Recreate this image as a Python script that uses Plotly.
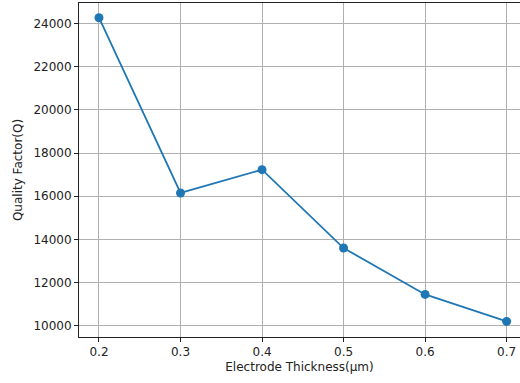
import plotly.graph_objects as go

thickness = [0.2, 0.3, 0.4, 0.5, 0.6, 0.7]
quality = [24270, 16150, 17230, 13600, 11450, 10200]
x_ticks = [0.2, 0.3, 0.4, 0.5, 0.6, 0.7]
x_tick_labels = ["0.2", "0.3", "0.4", "0.5", "0.6", "0.7"]
y_ticks = [10000, 12000, 14000, 16000, 18000, 20000, 22000, 24000]
y_tick_labels = ["10000", "12000", "14000", "16000", "18000", "20000", "22000", "24000"]

fig = go.Figure()
fig.add_trace(go.Scatter(
    x=thickness, y=quality, mode="lines+markers",
    line=dict(color="#1f77b4", width=1.8),
    marker=dict(color="#1f77b4", size=9),
    showlegend=False,
))

axis_common = dict(
    showgrid=True, gridcolor="#b0b0b0", gridwidth=0.8,
    showline=True, linecolor="#222222", linewidth=1,
    ticks="outside", ticklen=4, tickcolor="#222222", tickwidth=1,
    zeroline=False, automargin=False,
    tickfont=dict(family="DejaVu Sans", size=12, color="#222222"),
)

fig.update_layout(
    width=520, height=383,
    margin=dict(l=79, r=0, t=3, b=46),
    paper_bgcolor="white", plot_bgcolor="white",
    font=dict(family="DejaVu Sans", size=12, color="#222222"),
    xaxis=dict(
        axis_common, range=[0.1755, 0.7164], mirror=True,
        tickvals=x_ticks, ticktext=x_tick_labels,
        title=dict(text="Electrode Thickness(μm)", standoff=4,
                   font=dict(family="DejaVu Sans", size=12, color="#222222")),
    ),
    yaxis=dict(
        axis_common, range=[9478, 24952], mirror=False,
        tickvals=y_ticks, ticktext=y_tick_labels,
        title=dict(text="Quality Factor(Q)", standoff=8,
                   font=dict(family="DejaVu Sans", size=12, color="#222222")),
    ),
)

fig.write_html(
    "out.html",
    config={"displayModeBar": False},
    post_script="document.body.style.margin='0px';document.body.style.overflow='hidden';",
)
